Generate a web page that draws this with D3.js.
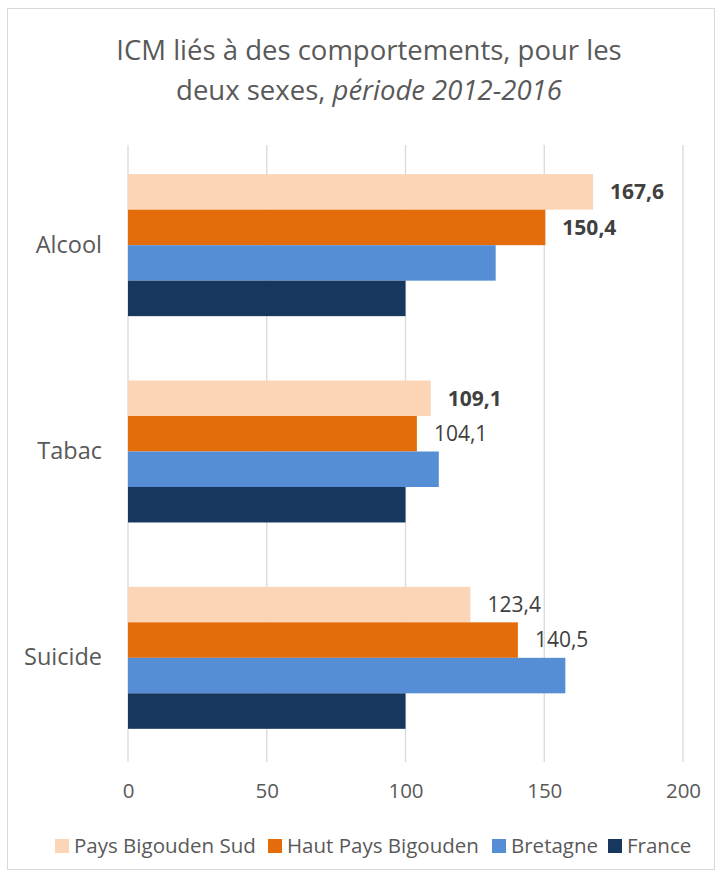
<html>
<head>
<meta charset="UTF-8">
<title>ICM</title>
<script src="https://cdn.jsdelivr.net/npm/d3@7"></script>
<style>
  body { margin:0; background:#fff; }
  text { font-family: "Open Sans", "Noto Sans", sans-serif; }
</style>
</head>
<body>
<svg id="chart" width="721" height="876"></svg>
<script>
// données
var categories = ["Alcool", "Tabac", "Suicide"];
var series = ["Pays Bigouden Sud", "Haut Pays Bigouden", "Bretagne", "France"];
var paysBigoudenSud = [167.6, 109.1, 123.4];
var hautPaysBigouden = [150.4, 104.1, 140.5];
var bretagne = [132.5, 112.0, 157.6];
var france = [100, 100, 100];
var xTicks = [0, 50, 100, 150, 200];
// étiquettes affichées, gras ou non
var labelSud = ["167,6", "109,1", "123,4"];
var labelHaut = ["150,4", "104,1", "140,5"];
var boldSud = [true, true, false];
var boldHaut = [true, false, false];

var colors = ["#FBD5B5", "#E46C0A", "#558ED5", "#17375E"];
var values = [paysBigoudenSud, hautPaysBigouden, bretagne, france];

var svg = d3.select("#chart");

// cadre
svg.append("rect").attr("x", 7.5).attr("y", 8.5).attr("width", 707).attr("height", 861)
   .attr("fill", "#fff").attr("stroke", "#d9d9d9");

// titre
var title = svg.append("text").attr("text-anchor", "middle").attr("fill", "#595959")
   .attr("font-size", 27.5);
title.append("tspan").attr("x", 369).attr("y", 60).text("ICM liés à des comportements, pour les");
var l2 = title.append("tspan").attr("x", 369).attr("y", 100);
l2.append("tspan").text("deux sexes, ");
l2.append("tspan").attr("font-style", "italic").text("période 2012-2016");

var x = d3.scaleLinear().domain([0, 200]).range([128, 683]);
var y = d3.scaleBand().domain(categories).range([142, 761]).paddingInner(0.312).paddingOuter(0.156);
var y1 = d3.scaleBand().domain(series).range([0, y.bandwidth()]);

// grille
svg.append("g").selectAll("line").data(xTicks).enter().append("line")
   .attr("x1", function(d){ return x(d); }).attr("x2", function(d){ return x(d); })
   .attr("y1", 145).attr("y2", 762)
   .attr("stroke", "#d9d9d9").attr("stroke-width", 1.3);

// axe x
var xAxis = svg.append("g").attr("transform", "translate(0,762)")
   .call(d3.axisBottom(x).tickValues(xTicks).tickSize(0).tickPadding(21));
xAxis.select(".domain").remove();
xAxis.selectAll("text").attr("font-size", 20.5).attr("fill", "#595959")
   .style("font-family", "'Open Sans', sans-serif");

// axe y
var yAxis = svg.append("g").attr("transform", "translate(102,0)")
   .call(d3.axisLeft(y).tickSize(0).tickPadding(0));
yAxis.select(".domain").remove();
yAxis.selectAll("text").attr("font-size", 23.5).attr("fill", "#595959")
   .style("font-family", "'Open Sans', sans-serif");

// barres
series.forEach(function(s, i){
  svg.append("g").selectAll("rect").data(values[i]).enter().append("rect")
     .attr("x", x(0))
     .attr("y", function(d, j){ return y(categories[j]) + y1(s); })
     .attr("width", function(d){ return x(d) - x(0); })
     .attr("height", y1.bandwidth())
     .attr("fill", colors[i]);
});

// étiquettes de données
function addLabels(vals, labels, bolds, s){
  svg.append("g").selectAll("text").data(vals).enter().append("text")
     .attr("x", function(d){ return x(d) + 17; })
     .attr("y", function(d, j){ return y(categories[j]) + y1(s) + y1.bandwidth() / 2; })
     .attr("dy", "0.35em")
     .attr("font-size", 21)
     .attr("font-weight", function(d, j){ return bolds[j] ? "bold" : "normal"; })
     .attr("fill", "#404040")
     .text(function(d, j){ return labels[j]; });
}
addLabels(paysBigoudenSud, labelSud, boldSud, series[0]);
addLabels(hautPaysBigouden, labelHaut, boldHaut, series[1]);

// légende
var legendX = [55, 268, 492, 608];
var legend = svg.append("g");
series.forEach(function(s, i){
  legend.append("rect").attr("x", legendX[i]).attr("y", 839).attr("width", 14).attr("height", 14)
        .attr("fill", colors[i]);
  legend.append("text").attr("x", legendX[i] + 19).attr("y", 853)
        .attr("font-size", 20.5).attr("fill", "#595959").text(s);
});
</script>
</body>
</html>
